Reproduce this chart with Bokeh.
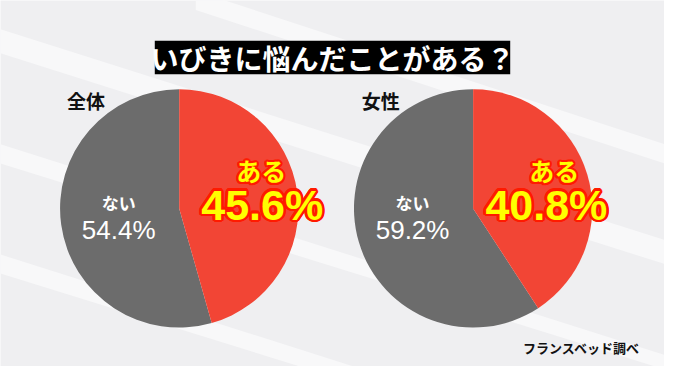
import numpy as np
from bokeh.plotting import figure
from bokeh.models import Range1d, ColumnDataSource, Label
from bokeh.core.properties import value
from bokeh.embed import file_html
from bokeh.resources import INLINE

# ---- data ----
title_text = "いびきに悩んだことがある？"
groups = ["全体", "女性"]
yes_share = [45.6, 40.8]
no_share = [54.4, 59.2]
yes_label = "ある"
no_label = "ない"
source_note = "フランスベッド調べ"

# ---- layout (reference pixel coordinates) ----
W, H = 680, 382
centers_x = [183, 484]
center_y = 217
radius = 122

FONT = "Noto Sans CJK JP"

p = figure(width=664, height=366, output_backend="svg", toolbar_location=None,
           x_range=Range1d(0, W), y_range=Range1d(H, 0),
           min_border=0, outline_line_color=None)
p.axis.visible = False
p.grid.visible = False
p.background_fill_color = "#efeff1"
p.border_fill_color = "#efeff1"

# decorative diagonal bands in the background
band_sets = [
    ([0, 680, 680, 0], [30, 250, 275, 55]),
    ([0, 680, 680, 0], [150, 370, 385, 170]),
    ([200, 680, 680, 200], [-10, 150, 170, 10]),
    ([0, 680, 680, 0], [265, 485, 500, 285]),
]
p.patches([b[0] for b in band_sets], [b[1] for b in band_sets],
          fill_color="#f8f8f9", line_color=None)

# title box
p.quad(left=[158], right=[522], top=[42], bottom=[77], fill_color="#000000", line_color=None)
p.text(x=[340], y=[60], text=[title_text], text_font=value(FONT), text_font_style="bold",
       text_font_size="28px", text_color="white", text_align="center", text_baseline="middle")

# pies
yes_frac = np.array(yes_share) / 100.0
starts = np.pi / 2 - yes_frac * 2 * np.pi
src = ColumnDataSource(dict(x=centers_x, y=[center_y] * 2,
                            ys=starts, ye=[np.pi / 2] * 2))
p.wedge(x="x", y="y", radius=radius, start_angle="ye", end_angle="ys",
        direction="anticlock", fill_color="#6c6c6c", line_color=None, source=src)
p.wedge(x="x", y="y", radius=radius, start_angle="ys", end_angle="ye",
        direction="anticlock", fill_color="#f24535", line_color=None, source=src)

# group labels
for gx, g in zip([68, 370], groups):
    p.add_layout(Label(x=gx, y=104, text=g, text_font=FONT, text_font_style="bold",
                       text_font_size="19px", text_color="#111111", text_baseline="middle"))


def outlined(xs, ys, texts, font, size, fill, stroke, r):
    angs = np.linspace(0, 2 * np.pi, 16, endpoint=False)
    ox, oy, tx, tyy, tt = [], [], [], [], []
    for x, y, t in zip(xs, ys, texts):
        for a in angs:
            ox.append(r * np.cos(a)); oy.append(r * np.sin(a))
            tx.append(x); tyy.append(y); tt.append(t)
    p.text(x=tx, y=tyy, text=tt, x_offset=ox, y_offset=oy, text_font=value(font),
           text_font_style="bold", text_font_size=size, text_color=stroke,
           text_align="center", text_baseline="middle")
    p.text(x=xs, y=ys, text=texts, text_font=value(font), text_font_style="bold",
           text_font_size=size, text_color=fill, text_align="center", text_baseline="middle")


# yes labels
outlined([267, 567], [177, 177], [yes_label] * 2, FONT, "25px", "#ffff00", "#ff1a00", 2.2)
outlined([268, 559], [213, 213], [f"{v}%" for v in yes_share], "Liberation Sans", "43px",
         "#ffff00", "#ff1a00", 2.6)

# no labels
for cx, v in zip([121, 422], no_share):
    p.text(x=[cx], y=[211], text=[no_label], text_font=value(FONT), text_font_style="bold",
           text_font_size="17px", text_color="white", text_align="center", text_baseline="middle")
    p.text(x=[cx], y=[240], text=[f"{v}%"], text_font=value("Liberation Sans"),
           text_font_size="26px", text_color="white", text_align="center", text_baseline="middle")

# source note
p.text(x=[655], y=[362], text=[source_note], text_font=value(FONT), text_font_style="bold",
       text_font_size="13px", text_color="#111111", text_align="right", text_baseline="middle")

open("out.html", "w").write(file_html(p, INLINE))
